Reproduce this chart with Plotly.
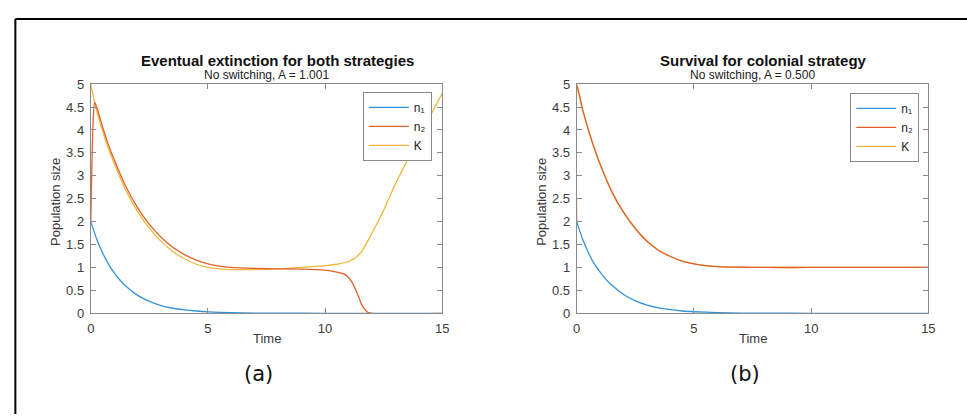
import plotly.graph_objects as go

# ---- panel (a): no switching, A = 1.001 ----
t_n1 = [0, 0.25, 0.5, 0.75, 1.0, 1.25, 1.5, 2.0, 2.5, 3.0, 3.5, 4.0, 4.5, 5.0, 6.0, 7.0, 8.0, 10.0, 15.0]
n1_a = [2.0, 1.62, 1.32, 1.08, 0.88, 0.72, 0.59, 0.39, 0.26, 0.17, 0.11, 0.075, 0.05, 0.032, 0.014, 0.006, 0.002, 0.0, 0.0]

t_n2_a = [0, 0.05, 0.1, 0.16, 0.25, 0.5, 0.75, 1.0, 1.5, 2.0, 2.5, 3.0, 3.5, 4.0, 4.5, 5.0, 5.5, 6.0, 7.0,
          8.0, 9.0, 10.0, 10.5, 10.8, 11.0, 11.2, 11.4, 11.6, 11.8, 12.0, 15.0]
n2_a = [2.0, 3.3, 4.2, 4.6, 4.5, 4.07, 3.68, 3.35, 2.76, 2.3, 1.94, 1.66, 1.44, 1.28, 1.16, 1.08, 1.03, 1.0, 0.98,
        0.97, 0.965, 0.94, 0.9, 0.86, 0.78, 0.63, 0.4, 0.15, 0.03, 0.0, 0.0]

t_K_a = [0, 0.1, 0.25, 0.5, 0.75, 1.0, 1.5, 2.0, 2.5, 3.0, 3.5, 4.0, 4.5, 5.0, 5.5, 6.0, 7.0, 8.0, 9.0,
         10.0, 10.5, 11.0, 11.3, 11.6, 12.0, 12.5, 13.0, 13.5, 14.0, 14.5, 15.0]
K_a = [5.0, 4.75, 4.42, 3.98, 3.6, 3.27, 2.68, 2.22, 1.86, 1.57, 1.35, 1.19, 1.07, 1.0, 0.97, 0.955, 0.955, 0.97, 1.0,
       1.04, 1.07, 1.13, 1.21, 1.38, 1.75, 2.25, 2.82, 3.33, 3.83, 4.32, 4.8]

# ---- panel (b): no switching, A = 0.500 ----
n1_b = [2.0, 1.62, 1.32, 1.08, 0.9, 0.74, 0.61, 0.41, 0.27, 0.18, 0.12, 0.08, 0.05, 0.034, 0.015, 0.006, 0.002, 0.0, 0.0]

t_b = [0, 0.01, 0.25, 0.5, 0.75, 1.0, 1.5, 2.0, 2.5, 3.0, 3.5, 4.0, 4.5, 5.0, 5.5, 6.0, 7.0, 8.0, 10.0, 15.0]
n2_b = [2.0, 4.97, 4.45, 4.0, 3.6, 3.25, 2.65, 2.2, 1.85, 1.57, 1.37, 1.24, 1.14, 1.08, 1.04, 1.02, 1.005, 1.0, 1.0, 1.0]
K_b = [5.0, 4.97, 4.45, 4.0, 3.6, 3.25, 2.65, 2.2, 1.85, 1.57, 1.37, 1.24, 1.14, 1.08, 1.04, 1.02, 1.005, 1.0, 1.0, 1.0]

titles = ["Eventual extinction for both strategies", "Survival for colonial strategy"]
subtitles = ["No switching, A = 1.001", "No switching, A = 0.500"]
panel_tags = ["(a)", "(b)"]
series_names = ["n₁", "n₂", "K"]
x_ticks = [0, 5, 10, 15]
y_ticks = [0, 0.5, 1, 1.5, 2, 2.5, 3, 3.5, 4, 4.5, 5]
y_tick_text = ["0", "0.5", "1", "1.5", "2", "2.5", "3", "3.5", "4", "4.5", "5"]

C_N1 = "#3592d8"
C_N2 = "#e0612c"
C_K = "#f0b73a"
FONT = "Liberation Sans, Arial, sans-serif"

W, H = 967, 418
fig = go.Figure()

panels = [
    dict(x1=t_n1, y1=n1_a, x2=t_n2_a, y2=n2_a, xk=t_K_a, yk=K_a, xa="x", ya="y", lg="legend"),
    dict(x1=t_n1, y1=n1_b, x2=t_b, y2=n2_b, xk=t_b, yk=K_b, xa="x2", ya="y2", lg="legend2"),
]
for p in panels:
    common = dict(mode="lines", xaxis=p["xa"], yaxis=p["ya"], legend=p["lg"])
    fig.add_trace(go.Scatter(x=p["x1"], y=p["y1"], name=series_names[0], legendrank=1,
                             line=dict(color=C_N1, width=1.3, shape="spline", smoothing=0.6), **common))
    fig.add_trace(go.Scatter(x=p["xk"], y=p["yk"], name=series_names[2], legendrank=3,
                             line=dict(color=C_K, width=1.3, shape="spline", smoothing=0.6), **common))
    fig.add_trace(go.Scatter(x=p["x2"], y=p["y2"], name=series_names[1], legendrank=2,
                             line=dict(color=C_N2, width=1.3, shape="spline", smoothing=0.6), **common))

# axes placement in pixels
x_dom = [(87.8, 443.3), (579.3, 935.0)]
y_top, y_bot = 80.0, 317.7

axis_style = dict(showline=True, linecolor="#8a8a8a", linewidth=1, mirror="ticks",
                  ticks="inside", ticklen=5, tickcolor="#8a8a8a", showgrid=False, zeroline=False,
                  ticklabelstandoff=3,
                  tickfont=dict(family=FONT, size=13, color="#3a3a3a"))


def label(text, x, y, size, color, family=FONT, angle=0):
    fig.add_annotation(text=text, x=x / W, y=1 - y / H, xref="paper", yref="paper",
                       xanchor="center", yanchor="middle", showarrow=False, textangle=angle,
                       font=dict(family=family, size=size, color=color))


for i, (l, r) in enumerate(x_dom):
    sx = "" if i == 0 else str(i + 1)
    fig.layout["xaxis" + sx] = dict(domain=[l / W, r / W], range=[0, 15], tickvals=x_ticks,
                                    anchor="y" + sx, **axis_style)
    fig.layout["yaxis" + sx] = dict(domain=[1 - y_bot / H, 1 - y_top / H], range=[0, 5],
                                    tickvals=y_ticks, ticktext=y_tick_text,
                                    anchor="x" + sx, **axis_style)
    cx = (l + r) / 2
    label("<b>" + titles[i] + "</b>", cx + 11, 55, 15, "#111111")
    label(subtitles[i], cx, 71, 12, "#222222")
    label("Time", cx, 344, 13, "#3a3a3a")
    label("Population size", l - 35, 202, 13, "#3a3a3a", angle=-90)
    label(panel_tags[i], cx - 8, 381, 21, "#111111", family="DejaVu Sans, sans-serif")

legend_style = dict(bgcolor="white", bordercolor="#8a8a8a", borderwidth=1,
                    font=dict(family=FONT, size=12, color="#222222"),
                    xanchor="left", yanchor="top", tracegroupgap=0, itemwidth=40)
fig.update_layout(
    legend=dict(x=363 / W, y=1 - 88 / H, **legend_style),
    legend2=dict(x=856 / W, y=1 - 89 / H, **legend_style),
)

# outer frame (top and left edges)
fig.add_shape(type="line", xref="paper", yref="paper", x0=11.5 / W, x1=1.01, y0=1 - 12.5 / H, y1=1 - 12.5 / H,
              line=dict(color="black", width=2))
fig.add_shape(type="line", xref="paper", yref="paper", x0=11.5 / W, x1=11.5 / W, y0=-0.01, y1=1 - 12.5 / H,
              line=dict(color="black", width=2))

fig.update_layout(width=W, height=H, margin=dict(l=0, r=0, t=0, b=0),
                  paper_bgcolor="white", plot_bgcolor="white", showlegend=True)

fig.write_html("out.html")
